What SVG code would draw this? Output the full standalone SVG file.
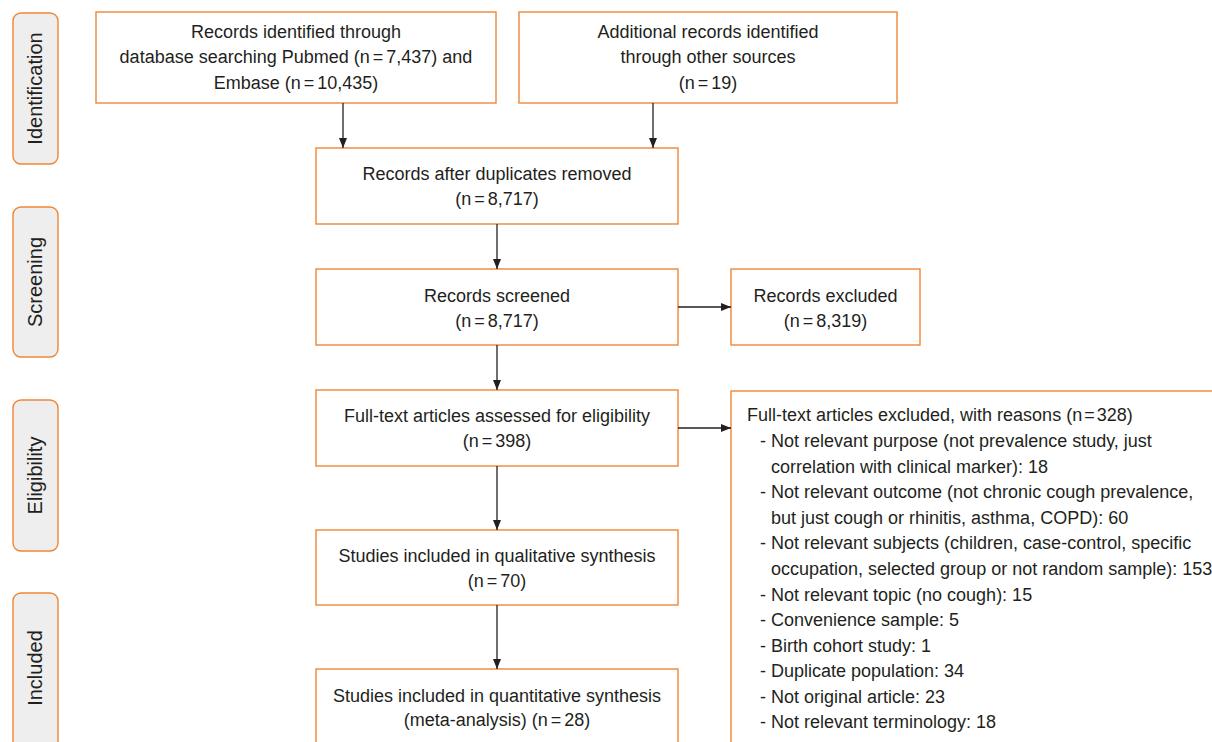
<svg xmlns="http://www.w3.org/2000/svg" width="1212" height="742" viewBox="0 0 1212 742">
<style>
.box{fill:#ffffff;stroke:#f08634;stroke-width:1.4}
.phase{fill:#eeeeee;stroke:#f08634;stroke-width:1.4}
.t{font-family:"Liberation Sans",Arial,sans-serif;font-size:18px;fill:#231f20}
.c{text-anchor:middle}
.p{font-family:"Liberation Sans",Arial,sans-serif;font-size:20px;fill:#231f20;text-anchor:middle}
.ln{stroke:#231f20;stroke-width:1.3;fill:none;marker-end:url(#ah)}
</style>
<defs>
<marker id="ah" viewBox="0 0 10 8" refX="10" refY="4" markerWidth="10" markerHeight="8" markerUnits="userSpaceOnUse" orient="auto">
<path d="M0,0 L10,4 L0,8 Z" fill="#231f20"/>
</marker>
</defs>
<rect width="1212" height="742" fill="#ffffff"/>
<g id="phase-identification">
<rect class="phase" x="13" y="13" width="45" height="151" rx="8"/>
<text class="p" transform="translate(42,88.5) rotate(-90)">Identification</text>
</g>
<g id="phase-screening">
<rect class="phase" x="13" y="207" width="45" height="150" rx="8"/>
<text class="p" transform="translate(42,282) rotate(-90)">Screening</text>
</g>
<g id="phase-eligibility">
<rect class="phase" x="13" y="400" width="45" height="151" rx="8"/>
<text class="p" transform="translate(42,475.5) rotate(-90)">Eligibility</text>
</g>
<g id="phase-included">
<rect class="phase" x="13" y="593" width="45" height="170" rx="8"/>
<text class="p" transform="translate(42,668) rotate(-90)">Included</text>
</g>
<g id="n-database">
<rect class="box" x="96" y="12" width="400" height="91"/>
<text class="t c" x="296" y="38">Records identified through</text>
<text class="t c" x="296" y="63">database searching Pubmed (n<tspan dx="3">=</tspan><tspan dx="3">7,437) and</tspan></text>
<text class="t c" x="296" y="89">Embase (n<tspan dx="3">=</tspan><tspan dx="3">10,435)</tspan></text>
</g>
<g id="n-additional">
<rect class="box" x="519" y="12" width="378" height="91"/>
<text class="t c" x="708" y="38">Additional records identified</text>
<text class="t c" x="708" y="63">through other sources</text>
<text class="t c" x="708" y="89">(n<tspan dx="3">=</tspan><tspan dx="3">19)</tspan></text>
</g>
<g id="n-duplicates">
<rect class="box" x="316" y="148" width="362" height="76"/>
<text class="t c" x="497" y="180">Records after duplicates removed</text>
<text class="t c" x="497" y="205">(n<tspan dx="3">=</tspan><tspan dx="3">8,717)</tspan></text>
</g>
<g id="n-screened">
<rect class="box" x="316" y="269" width="362" height="76"/>
<text class="t c" x="497" y="302">Records screened</text>
<text class="t c" x="497" y="327">(n<tspan dx="3">=</tspan><tspan dx="3">8,717)</tspan></text>
</g>
<g id="n-excluded">
<rect class="box" x="731" y="269" width="189" height="76"/>
<text class="t c" x="825.5" y="302">Records excluded</text>
<text class="t c" x="825.5" y="327">(n<tspan dx="3">=</tspan><tspan dx="3">8,319)</tspan></text>
</g>
<g id="n-fulltext">
<rect class="box" x="316" y="390" width="362" height="76"/>
<text class="t c" x="497" y="422">Full-text articles assessed for eligibility</text>
<text class="t c" x="497" y="447">(n<tspan dx="3">=</tspan><tspan dx="3">398)</tspan></text>
</g>
<g id="n-fulltext-excluded">
<rect class="box" x="731" y="391" width="500" height="380"/>
<text class="t" x="747" y="421">Full-text articles excluded, with reasons (n<tspan dx="2">=</tspan><tspan dx="2">328)</tspan></text>
<text class="t" x="760" y="447">- Not relevant purpose (not prevalence study, just</text>
<text class="t" x="771" y="472.5">correlation with clinical marker): 18</text>
<text class="t" x="760" y="498">- Not relevant outcome (not chronic cough prevalence,</text>
<text class="t" x="771" y="523.5">but just cough or rhinitis, asthma, COPD): 60</text>
<text class="t" x="760" y="549">- Not relevant subjects (children, case-control, specific</text>
<text class="t" x="771" y="575">occupation, selected group or not random sample): 153</text>
<text class="t" x="760" y="600.5">- Not relevant topic (no cough): 15</text>
<text class="t" x="760" y="626">- Convenience sample: 5</text>
<text class="t" x="760" y="651.5">- Birth cohort study: 1</text>
<text class="t" x="760" y="677">- Duplicate population: 34</text>
<text class="t" x="760" y="702.5">- Not original article: 23</text>
<text class="t" x="760" y="728">- Not relevant terminology: 18</text>
</g>
<g id="n-qualitative">
<rect class="box" x="316" y="530" width="362" height="75"/>
<text class="t c" x="497" y="562">Studies included in qualitative synthesis</text>
<text class="t c" x="497" y="587">(n<tspan dx="3">=</tspan><tspan dx="3">70)</tspan></text>
</g>
<g id="n-quantitative">
<rect class="box" x="316" y="669" width="362" height="100"/>
<text class="t c" x="497" y="702">Studies included in quantitative synthesis</text>
<text class="t c" x="497" y="726">(meta-analysis) (n<tspan dx="3">=</tspan><tspan dx="3">28)</tspan></text>
</g>
<g id="connectors">
<line class="ln" x1="343" y1="103" x2="343" y2="148"/>
<line class="ln" x1="653" y1="103" x2="653" y2="148"/>
<line class="ln" x1="497" y1="224" x2="497" y2="269"/>
<line class="ln" x1="678" y1="307" x2="731" y2="307"/>
<line class="ln" x1="497" y1="345" x2="497" y2="390"/>
<line class="ln" x1="678" y1="428" x2="731" y2="428"/>
<line class="ln" x1="497" y1="466" x2="497" y2="530"/>
<line class="ln" x1="497" y1="605" x2="497" y2="669"/>
</g>
</svg>
